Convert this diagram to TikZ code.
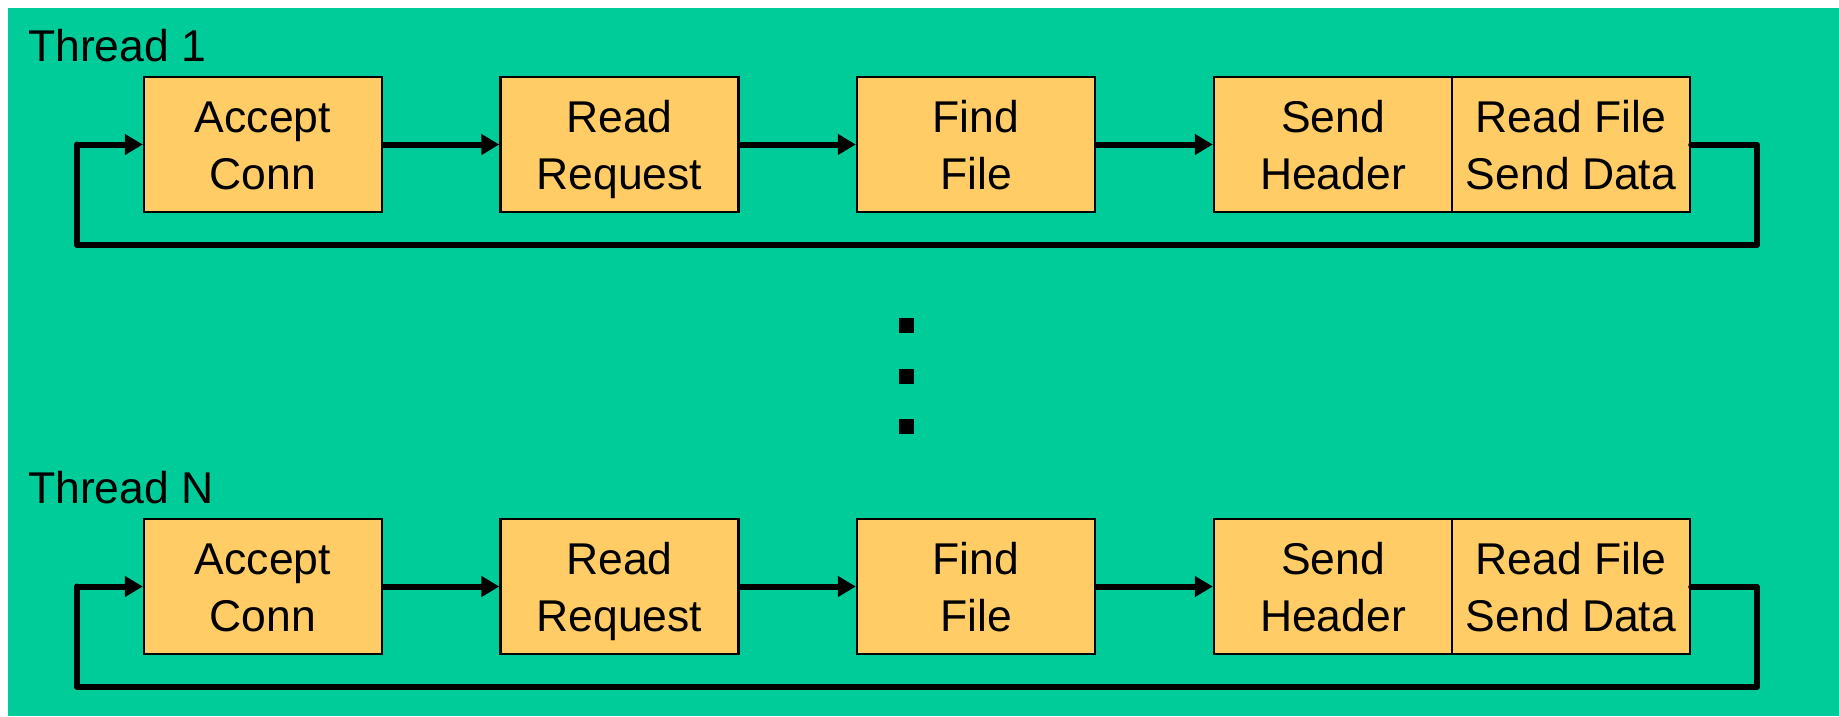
\documentclass[tikz,border=0pt]{standalone}
\usepackage{fontspec}
\setmainfont{Liberation Sans}
\usetikzlibrary{arrows.meta}
\definecolor{sea}{HTML}{00CC99}
\definecolor{stagefill}{HTML}{FFCC66}
\tikzset{
  stagebox/.style={draw=black, fill=stagefill, line width=2.4pt, rectangle,
    minimum width=238pt, minimum height=135pt, inner sep=0pt, align=center,
    font=\fontsize{44.5}{57}\selectfont, text height=89pt, text depth=0pt},
  threadlabel/.style={anchor=base west, inner sep=0pt, font=\fontsize{44.5}{57}\selectfont},
  flow/.style={line width=6pt, -{Triangle[length=18pt,width=20pt]}},
  loopline/.style={line width=6pt, line join=round, line cap=round},
  dotmark/.style={fill=black, rectangle, minimum size=15pt, inner sep=0pt}
}
\begin{document}
\begin{tikzpicture}[x=1pt,y=-1pt]
  \useasboundingbox (0,0) rectangle (1839,716);
  \fill[white] (0,0) rectangle (1839,716);
  \fill[sea] (8,8) rectangle (1839,716);

  % one pipeline per thread: label, five stages, forward arrows, return loop
  \foreach \r/\top/\lab in {1/77/Thread 1, 2/519/Thread N} {
    \pgfmathsetmacro{\cy}{\top+67.5}
    \pgfmathsetmacro{\lb}{\top-16}
    \pgfmathsetmacro{\ly}{\top+168}
    \node[threadlabel] (lab\r) at (28,\lb) {\lab};
    \node[stagebox] (acc\r) at (263,\cy) {Accept\\Conn};
    \node[stagebox] (req\r) at (619.5,\cy) {Read\\Request};
    \node[stagebox] (find\r) at (976,\cy) {Find\\File};
    \node[stagebox] (hdr\r) at (1333,\cy) {Send\\Header};
    \node[stagebox] (data\r) at (1571,\cy) {Read File\\Send Data};
    \coordinate (ne\r) at (1757,\cy);
    \coordinate (se\r) at (1757,\ly);
    \coordinate (sw\r) at (77,\ly);
    \coordinate (nw\r) at (77,\cy);
    \draw[flow] (acc\r.east) -- (req\r.west);
    \draw[flow] (req\r.east) -- (find\r.west);
    \draw[flow] (find\r.east) -- (hdr\r.west);
    \draw[loopline] (data\r.east) -- (ne\r) -- (se\r) -- (sw\r) -- (nw\r);
    \draw[flow] (nw\r) -- (acc\r.west);
  }

  % vertical ellipsis between the threads
  \node[dotmark] (dotA) at (906.5,325.5) {};
  \node[dotmark] (dotB) at (906.5,376.5) {};
  \node[dotmark] (dotC) at (906.5,426.5) {};
\end{tikzpicture}
\end{document}
